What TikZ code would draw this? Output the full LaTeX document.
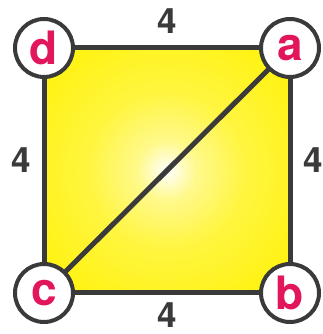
\documentclass[tikz,border=0pt]{standalone}
\usepackage{fontspec}
\setmainfont{TeX Gyre Heros}
\definecolor{edge}{RGB}{58,58,58}
\definecolor{mag}{RGB}{226,22,92}
\definecolor{yel}{RGB}{255,242,0}
\pgfdeclareradialshading{ysh}{\pgfpoint{0bp}{0bp}}{%
  color(0bp)=(white); color(6bp)=(yel!45!white); color(16bp)=(yel!75!white);
  color(30bp)=(yel!92!white); color(42bp)=(yel); color(50bp)=(yel)}
\pgfdeclarelayer{back}
\pgfdeclarelayer{mid}
\pgfsetlayers{back,mid,main}
\tikzset{
  vtx/.style={circle, draw=edge, line width=4pt, fill=white, minimum size=58pt,
    inner sep=0pt, text=mag, font=\fontsize{46}{46}\selectfont\bfseries},
  wt/.style={text=edge, font=\fontsize{35}{35}\selectfont\bfseries, inner sep=0pt},
  side/.style={draw=edge, line width=5pt}
}
\begin{document}
\begin{tikzpicture}[x=1pt,y=1pt]
\useasboundingbox (0,0) rectangle (322,334);
\node[vtx] (d) at (44,286) {d};
\node[vtx] (a) at (290,286) {a};
\node[vtx] (b) at (290,41) {b};
\node[vtx] (c) at (44,41) {c};
\begin{pgfonlayer}{back}
\shade[shading=ysh] (d.center) -- (a.center) -- (b.center) -- (c.center) -- cycle;
\end{pgfonlayer}
\begin{pgfonlayer}{mid}
\draw[side] (d.center) -- (a.center);
\draw[side] (a.center) -- (b.center);
\draw[side] (b.center) -- (c.center);
\draw[side] (c.center) -- (d.center);
\draw[side] (a.center) -- (c.center);
\end{pgfonlayer}
\node[wt] (wt) at (167,313) {4};
\node[wt] (wl) at (21,174) {4};
\node[wt] (wr) at (313,174) {4};
\node[wt] (wb) at (167,19) {4};
\end{tikzpicture}
\end{document}
